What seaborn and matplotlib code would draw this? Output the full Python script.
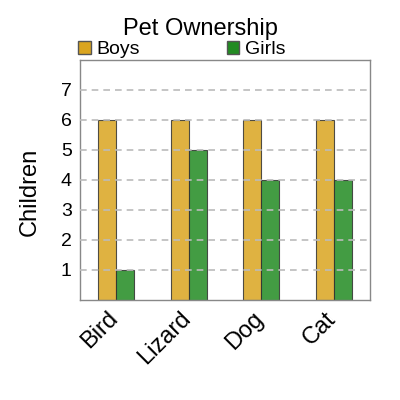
import matplotlib
matplotlib.use("Agg")
import matplotlib.pyplot as plt
import matplotlib.transforms as mtransforms
import seaborn as sns
import pandas as pd
from matplotlib.patches import Patch

pets = ["Bird", "Lizard", "Dog", "Cat"]
boys = [6, 6, 6, 6]
girls = [1, 5, 4, 4]
groups = ["Boys", "Girls"]
colors = {"Boys": "#DAA520", "Girls": "#228B22"}

df = pd.DataFrame({
    "pet": pets * 2,
    "children": boys + girls,
    "group": ["Boys"] * len(pets) + ["Girls"] * len(pets),
})

sns.set_style("white")
plt.rcParams["font.family"] = ["Liberation Sans", "DejaVu Sans"]
plt.rcParams["text.color"] = "black"
plt.rcParams["xtick.color"] = "black"
plt.rcParams["ytick.color"] = "black"
plt.rcParams["axes.labelcolor"] = "black"

fig = plt.figure(figsize=(4, 4), dpi=100)
ax = fig.add_axes([0.2, 0.25, 0.725, 0.6])

sns.barplot(data=df, x="pet", y="children", hue="group", order=pets,
            hue_order=groups, palette=colors, width=0.5, alpha=0.85,
            saturation=1, edgecolor="#333333", linewidth=0.8, ax=ax,
            legend=False)

ax.set_ylim(0, 8)
ax.set_xlim(-0.5, 3.5)
ax.set_yticks(range(1, 8))
ax.yaxis.grid(True, linestyle=(0, (4, 3)), color="#bbbbbb", linewidth=1.2)
ax.set_axisbelow(False)
ax.tick_params(axis="y", labelsize=14, length=0, pad=6)
ax.tick_params(axis="x", labelsize=17, length=0, pad=4)
shift = mtransforms.ScaledTranslation(-9 / 100, -2 / 100, fig.dpi_scale_trans)
for lbl in ax.get_xticklabels():
    lbl.set_rotation(45)
    lbl.set_ha("right")
    lbl.set_rotation_mode("anchor")
    lbl.set_transform(lbl.get_transform() + shift)
for s in ax.spines.values():
    s.set_color("#888888")
    s.set_linewidth(1.0)
ax.set_xlabel("")
ax.set_ylabel("Children", fontsize=17)
ax.yaxis.set_label_coords(-0.135, 0.45)

handles = [Patch(facecolor=colors[g], edgecolor="#555555", label=g) for g in groups]
fig.legend(handles=handles, loc="center left", bbox_to_anchor=(0.195, 0.876), ncol=2,
           frameon=False, fontsize=14, handlelength=0.65, handleheight=0.65,
           handletextpad=0.3, columnspacing=4.45, borderaxespad=0, borderpad=0)
fig.text(0.5, 0.9, "Pet Ownership", ha="center", va="bottom", fontsize=17)

fig.savefig("out.png", dpi=100)
